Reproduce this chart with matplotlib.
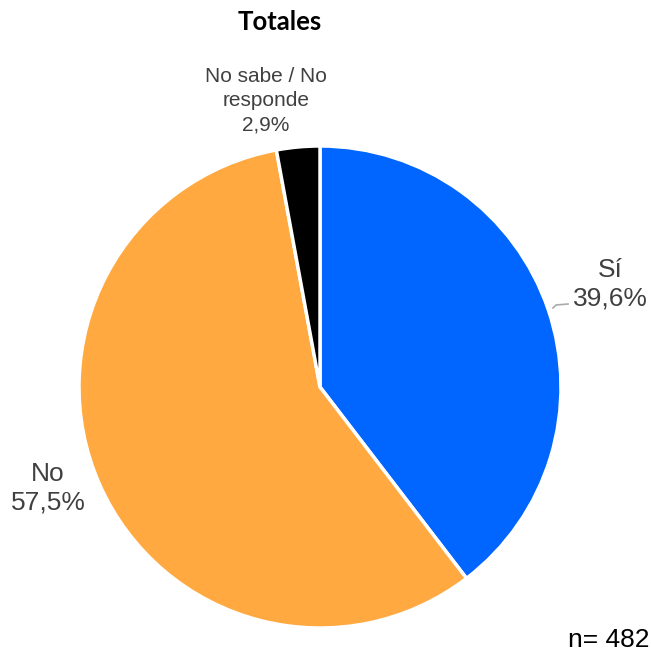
import matplotlib.pyplot as plt

# data
categories = ['Sí', 'No', 'No sabe / No\nresponde']
values = [39.6, 57.5, 2.9]
colors = ['#0066FF', '#FFA940', '#000000']
n_total = 482

W, H = 651, 657
fig = plt.figure(figsize=(W / 100, H / 100), dpi=100)
ax = fig.add_axes([0, 0, 1, 1])

# pie centre / radius in pixels
cx, cy, r = 320, H - 387, 241
ax.pie(values, colors=colors, startangle=90, counterclock=False,
       center=(cx, cy), radius=r, frame=True,
       wedgeprops=dict(edgecolor='white', linewidth=2.5))
ax.set_xlim(0, W)
ax.set_ylim(0, H)
ax.axis('off')

def fmt(v):
    return ('%.1f%%' % v).replace('.', ',')

# label positions (pixels from top-left), font sizes, line spacing
label_pos = [(610, 284), (48, 488), (266, 101)]
label_size = [19, 19, 15]
label_ls = [1.25, 1.25, 1.35]
for cat, v, (px, py), fs, ls in zip(categories, values, label_pos, label_size, label_ls):
    ax.text(px, H - py, cat + '\n' + fmt(v), ha='center', va='center',
            fontsize=fs, color='#404040', family='Liberation Sans',
            linespacing=ls)

# leader line for Sí
ax.plot([553, 556, 568], [H - 308, H - 305, H - 304], color='#aaaaaa', lw=1.2)

ax.text(280, H - 22, 'Totales', ha='center', va='center', fontsize=18.5,
        fontweight='bold', family='Lato', color='#000000')
ax.text(650, H - 640, 'n= %d' % n_total, ha='right', va='center',
        fontsize=19, family='Liberation Sans', color='#000000')

fig.savefig('out.png', dpi=100)
